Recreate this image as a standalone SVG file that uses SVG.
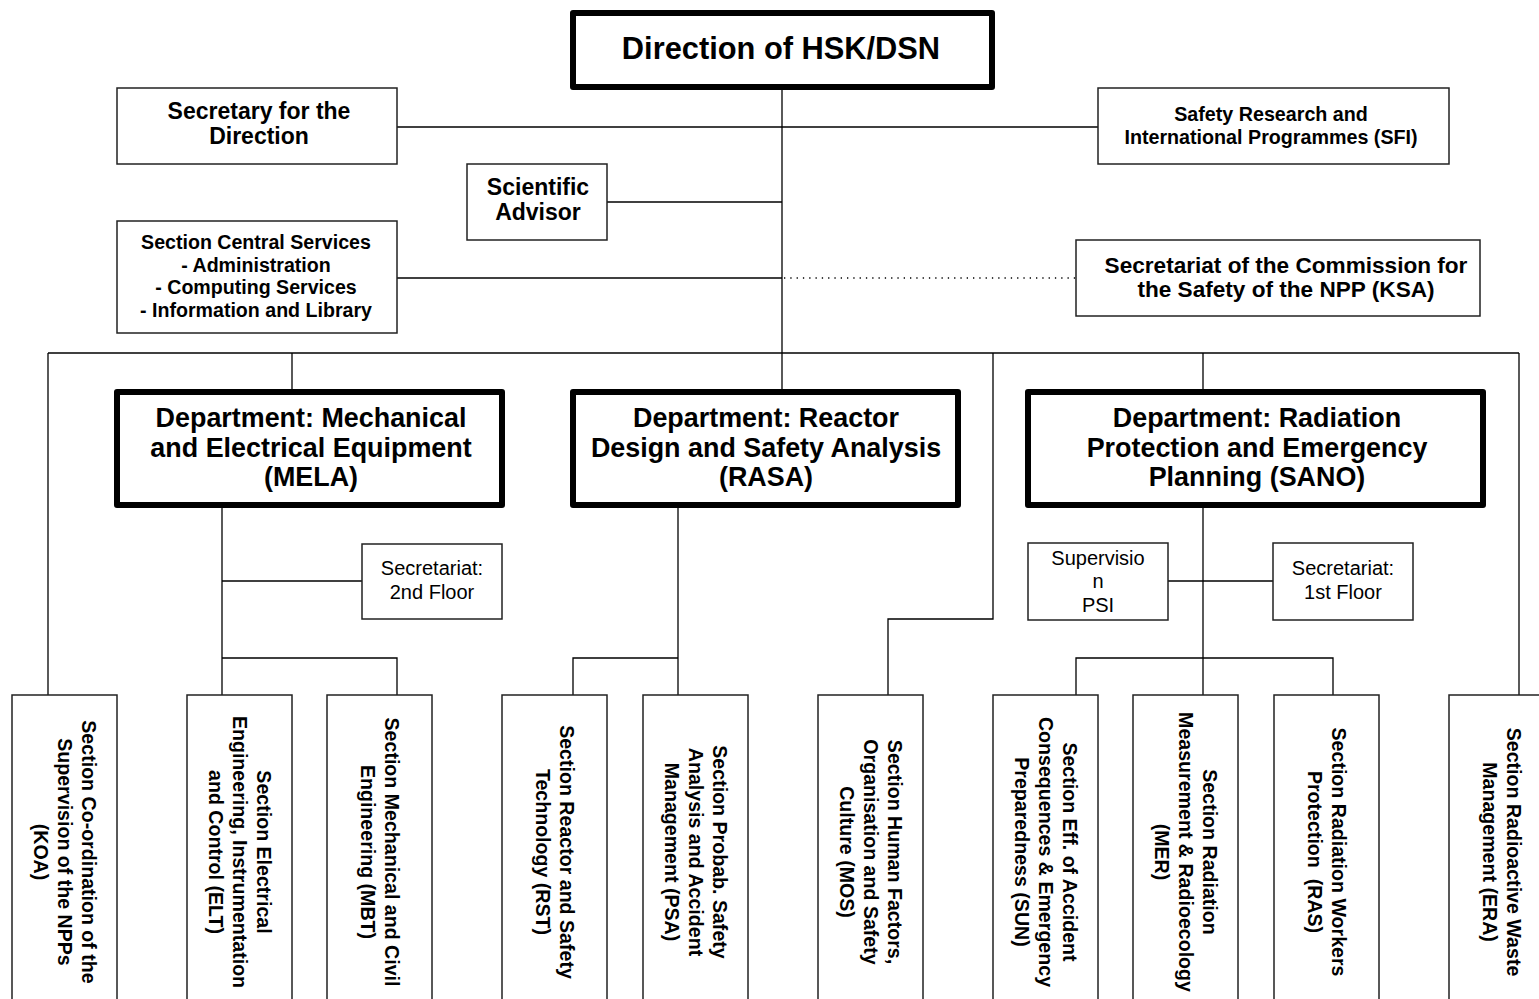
<svg xmlns="http://www.w3.org/2000/svg" width="1539" height="999" viewBox="0 0 1539 999">
  <style>
    text { font-family: "Liberation Sans", Arial, sans-serif; fill: #000; text-anchor: middle; }
    .b { font-weight: bold; }
    .box { fill: #fff; stroke: #222; stroke-width: 1.5; }
    .dept { fill: #fff; stroke: #000; stroke-width: 6; stroke-linejoin: round; }
    .ln { fill: none; stroke: #000; stroke-width: 1.3; }
    .dot { fill: none; stroke: #000; stroke-width: 1.3; stroke-dasharray: 1.3 5; }
    .dep { font-size: 26.9px; font-weight: bold; }
    .sec { font-size: 19.6px; font-weight: bold; white-space: pre; }
    .reg { font-size: 20px; }
  </style>

  <rect width="1539" height="999" fill="#fff"/>

  <!-- connecting lines -->
  <g id="connectors">
    <line class="ln" x1="782" y1="90" x2="782" y2="390"/>
    <line class="ln" x1="397" y1="127" x2="1098" y2="127"/>
    <line class="ln" x1="607" y1="202" x2="782" y2="202"/>
    <line class="ln" x1="397" y1="278" x2="782" y2="278"/>
    <line class="dot" x1="784" y1="278" x2="1076" y2="278"/>
    <!-- main bus -->
    <line class="ln" x1="48" y1="353" x2="1519" y2="353"/>
    <line class="ln" x1="48" y1="353" x2="48" y2="695"/>
    <line class="ln" x1="292" y1="353" x2="292" y2="390"/>
    <line class="ln" x1="1203" y1="353" x2="1203" y2="390"/>
    <line class="ln" x1="1519" y1="353" x2="1519" y2="695"/>
    <polyline class="ln" points="993,353 993,619 888,619 888,695"/>
    <!-- MELA -->
    <line class="ln" x1="222" y1="508" x2="222" y2="695"/>
    <line class="ln" x1="222" y1="581" x2="362" y2="581"/>
    <polyline class="ln" points="222,658 397,658 397,695"/>
    <!-- RASA -->
    <line class="ln" x1="678" y1="508" x2="678" y2="695"/>
    <polyline class="ln" points="678,658 573,658 573,695"/>
    <!-- SANO -->
    <line class="ln" x1="1203" y1="508" x2="1203" y2="695"/>
    <line class="ln" x1="1168" y1="581" x2="1273" y2="581"/>
    <polyline class="ln" points="1076,695 1076,658 1333,658 1333,695"/>
  </g>

  <g id="direction">
    <rect class="dept" x="573" y="13" width="419" height="74"/>
    <text x="781" y="59" class="b" font-size="30.8">Direction of HSK/DSN</text>
  </g>

  <g id="secretary">
    <rect class="box" x="117" y="88" width="280" height="76"/>
    <text x="259" y="119" class="b" font-size="23">Secretary for the</text>
    <text x="259" y="144" class="b" font-size="23">Direction</text>
  </g>

  <g id="sfi">
    <rect class="box" x="1098" y="88" width="351" height="76"/>
    <text x="1271" y="121" class="b" font-size="19.7">Safety Research and</text>
    <text x="1271" y="144" class="b" font-size="19.7">International Programmes (SFI)</text>
  </g>

  <g id="advisor">
    <rect class="box" x="467" y="164" width="140" height="76"/>
    <text x="538" y="195" class="b" font-size="23">Scientific</text>
    <text x="538" y="220" class="b" font-size="23">Advisor</text>
  </g>

  <g id="central-services">
    <rect class="box" x="117" y="221" width="280" height="112"/>
    <text x="256" y="249" class="b" font-size="19.6">Section Central Services</text>
    <text x="256" y="272" class="b" font-size="19.6">- Administration</text>
    <text x="256" y="294" class="b" font-size="19.6">- Computing Services</text>
    <text x="256" y="317" class="b" font-size="19.6">- Information and Library</text>
  </g>

  <g id="ksa">
    <rect class="box" x="1076" y="240" width="404" height="76"/>
    <text x="1286" y="273" class="b" font-size="22.6">Secretariat of the Commission for</text>
    <text x="1286" y="297" class="b" font-size="22.6">the Safety of the NPP (KSA)</text>
  </g>

  <g id="mela">
    <rect class="dept" x="117" y="392" width="385" height="113"/>
    <text x="311" y="427" class="dep">Department: Mechanical</text>
    <text x="311" y="457" class="dep">and Electrical Equipment</text>
    <text x="311" y="486" class="dep">(MELA)</text>
  </g>

  <g id="rasa">
    <rect class="dept" x="573" y="392" width="385" height="113"/>
    <text x="766" y="427" class="dep">Department: Reactor</text>
    <text x="766" y="457" class="dep">Design and Safety Analysis</text>
    <text x="766" y="486" class="dep">(RASA)</text>
  </g>

  <g id="sano">
    <rect class="dept" x="1028" y="392" width="455" height="113"/>
    <text x="1257" y="427" class="dep">Department: Radiation</text>
    <text x="1257" y="457" class="dep">Protection and Emergency</text>
    <text x="1257" y="486" class="dep">Planning (SANO)</text>
  </g>

  <g id="secretariat-2nd">
    <rect class="box" x="362" y="544" width="140" height="75"/>
    <text x="432" y="575" class="reg">Secretariat:</text>
    <text x="432" y="599" class="reg">2nd Floor</text>
  </g>

  <g id="supervision-psi">
    <rect class="box" x="1028" y="543" width="140" height="77"/>
    <text x="1098" y="565" class="reg">Supervisio</text>
    <text x="1098" y="588" class="reg">n</text>
    <text x="1098" y="612" class="reg">PSI</text>
  </g>

  <g id="secretariat-1st">
    <rect class="box" x="1273" y="543" width="140" height="77"/>
    <text x="1343" y="575" class="reg">Secretariat:</text>
    <text x="1343" y="599" class="reg">1st Floor</text>
  </g>

  <!-- sections: vertical labels read top to bottom -->
  <g id="koa">
    <rect class="box" x="12" y="695" width="105" height="320"/>
    <g transform="translate(64.5,852) rotate(90)">
      <text class="sec" x="0" y="-17">Section Co-ordination of the</text>
      <text class="sec" x="0" y="7">Supervision of the NPPs</text>
      <text class="sec" x="0" y="31">(KOA)</text>
    </g>
  </g>

  <g id="elt">
    <rect class="box" x="187" y="695" width="105" height="320"/>
    <g transform="translate(239.5,852) rotate(90)">
      <text class="sec" x="0" y="-17">Section Electrical</text>
      <text class="sec" x="0" y="7">Engineering, Instrumentation</text>
      <text class="sec" x="0" y="31">and Control (ELT)</text>
    </g>
  </g>

  <g id="mbt">
    <rect class="box" x="327" y="695" width="105" height="320"/>
    <g transform="translate(379.5,852) rotate(90)">
      <text class="sec" x="0" y="-5">Section Mechanical and Civil</text>
      <text class="sec" x="0" y="19">Engineering (MBT)</text>
    </g>
  </g>

  <g id="rst">
    <rect class="box" x="502" y="695" width="105" height="320"/>
    <g transform="translate(554.5,852) rotate(90)">
      <text class="sec" x="0" y="-5">Section Reactor and Safety</text>
      <text class="sec" x="0" y="19">Technology (RST)</text>
    </g>
  </g>

  <g id="psa">
    <rect class="box" x="643" y="695" width="105" height="320"/>
    <g transform="translate(695.5,852) rotate(90)">
      <text class="sec" x="0" y="-17">Section Probab. Safety</text>
      <text class="sec" x="0" y="7">Analysis and Accident</text>
      <text class="sec" x="0" y="31">Management (PSA)</text>
    </g>
  </g>

  <g id="mos">
    <rect class="box" x="818" y="695" width="105" height="320"/>
    <g transform="translate(870.5,852) rotate(90)">
      <text class="sec" x="0" y="-17">Section Human Factors,</text>
      <text class="sec" x="0" y="7">Organisation and Safety</text>
      <text class="sec" x="0" y="31">Culture (MOS)</text>
    </g>
  </g>

  <g id="sun">
    <rect class="box" x="993" y="695" width="105" height="320"/>
    <g transform="translate(1045.5,852) rotate(90)">
      <text class="sec" x="0" y="-17">Section Eff. of Accident</text>
      <text class="sec" x="0" y="7">Consequences &amp; Emergency</text>
      <text class="sec" x="0" y="31">Preparedness (SUN)</text>
    </g>
  </g>

  <g id="mer">
    <rect class="box" x="1133" y="695" width="105" height="320"/>
    <g transform="translate(1185.5,852) rotate(90)">
      <text class="sec" x="0" y="-17">Section Radiation</text>
      <text class="sec" x="0" y="7">Measurement &amp; Radioecology</text>
      <text class="sec" x="0" y="31">(MER)</text>
    </g>
  </g>

  <g id="ras">
    <rect class="box" x="1274" y="695" width="105" height="320"/>
    <g transform="translate(1326.5,852) rotate(90)">
      <text class="sec" x="0" y="-5">Section Radiation Workers</text>
      <text class="sec" x="0" y="19">Protection  (RAS)</text>
    </g>
  </g>

  <g id="era">
    <rect class="box" x="1449" y="695" width="105" height="320"/>
    <g transform="translate(1501.5,852) rotate(90)">
      <text class="sec" x="0" y="-5">Section Radioactive Waste</text>
      <text class="sec" x="0" y="19">Management (ERA)</text>
    </g>
  </g>
</svg>
